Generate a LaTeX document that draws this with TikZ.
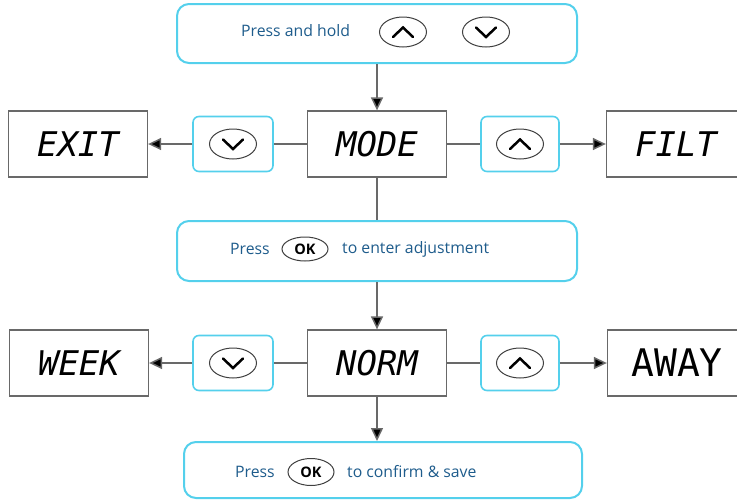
\documentclass[tikz,border=0pt]{standalone}
\usepackage{fontspec}
\setmainfont{Open Sans}
\newfontfamily\segfont{DejaVu Sans Mono}
\usetikzlibrary{arrows.meta,calc,shapes.geometric}
\definecolor{cyanb}{RGB}{84,208,236}
\definecolor{txtblue}{RGB}{30,92,140}
\definecolor{lgray}{RGB}{105,105,105}
\begin{document}
\begin{tikzpicture}[x=1pt,y=-1pt,
  bigbox/.style={draw=cyanb,line width=2pt,rounded corners=12pt,fill=white,minimum width=400pt,minimum height=59pt},
  btnbox/.style={draw=cyanb,line width=1.6pt,rounded corners=6pt,fill=white,minimum width=79pt,minimum height=55pt},
  lcd/.style={draw=lgray,line width=1.3pt,fill=white,minimum width=139pt,minimum height=66pt,inner sep=0pt,
     font=\segfont\itshape\fontsize{34}{34}\selectfont},
  lcdup/.style={lcd,font=\segfont\fontsize{38}{38}\selectfont},
  blabel/.style={text=txtblue,font=\fontsize{15.8}{17}\selectfont,inner sep=0pt,anchor=west},
  btn/.style={ellipse,draw=black!75,line width=1pt,minimum width=47pt,minimum height=30pt,inner sep=0pt,fill=white},
  okbtn/.style={ellipse,draw=black!75,line width=1pt,minimum width=46pt,minimum height=24pt,inner sep=0pt,fill=white,
     font=\bfseries\fontsize{14.5}{14.5}\selectfont},
  chev/.style={line width=2.5pt,black,line join=miter,line cap=round},
  plain/.style={draw=lgray,line width=1.5pt},
  conn/.style={plain,-{Triangle[length=13pt,width=12pt,fill=black]}}]
\clip (0,0) rectangle (737,501);
\useasboundingbox (0,0) rectangle (737,501);
% big boxes
\node[bigbox] (top) at (377,33.5) {};
\node[bigbox,minimum height=60pt] (enter) at (377,251) {};
\node[bigbox,minimum width=398pt,minimum height=56pt] (save) at (383,470) {};
% lcd boxes
\node[lcd] (exit) at (78,144) {EXIT};
\node[lcd] (mode) at (377,144) {MODE};
\node[lcd] (filt) at (676,144) {FILT};
\node[lcd] (week) at (79,363) {WEEK};
\node[lcd] (norm) at (377,363) {NORM};
\node[lcdup] (away) at (677,363) {AWAY};
% button boxes
\node[btnbox,minimum width=80pt] (dnA) at (233,144) {};
\node[btnbox,minimum width=78pt] (upA) at (520,144) {};
\node[btnbox,minimum width=80pt] (dnB) at (233,363) {};
\node[btnbox,minimum width=78pt] (upB) at (520,363) {};
% connectors
\draw[conn] (top.south) -- (mode.north);
\draw[plain] (mode.west) -- (dnA.east);
\draw[conn] (dnA.west) -- (exit.east);
\draw[plain] (mode.east) -- (upA.west);
\draw[conn] (upA.east) -- (filt.west);
\draw[plain] (mode.south) -- (enter.north);
\draw[conn] (enter.south) -- (norm.north);
\draw[plain] (norm.west) -- (dnB.east);
\draw[conn] (dnB.west) -- (week.east);
\draw[plain] (norm.east) -- (upB.west);
\draw[conn] (upB.east) -- (away.west);
\coordinate (saveTop) at (norm.south |- save.north);
\draw[conn] (norm.south) -- (saveTop);
% top box content
\node[blabel] (hold) at (241,31) {Press and hold};
\node[btn] (u0) at (403,32) {};
\node[btn] (d0) at (486,32) {};
% ellipses in button boxes
\node[btn] (u1) at (520,144) {};
\node[btn] (d1) at (233,144) {};
\node[btn] (u2) at (520,363) {};
\node[btn] (d2) at (233,363) {};
\foreach \n in {u0,u1,u2}{
  \draw[chev] ($(\n)+(-10,5)$) -- ($(\n)+(0,-4.5)$) -- ($(\n)+(10,5)$);
}
\foreach \n in {d0,d1,d2}{
  \draw[chev] ($(\n)+(-10,-4.5)$) -- ($(\n)+(0,5)$) -- ($(\n)+(10,-4.5)$);
}
% enter box content
\node[blabel] (p1) at (230,249) {Press};
\node[okbtn] (ok1) at (305,249) {OK};
\node[blabel] (t1) at (342,249) {to enter adjustment};
% save box content
\node[blabel] (p2) at (235,472) {Press};
\node[okbtn,minimum height=27pt] (ok2) at (311,472) {OK};
\node[blabel] (t2) at (347,472) {to confirm \& save};
\end{tikzpicture}
\end{document}
